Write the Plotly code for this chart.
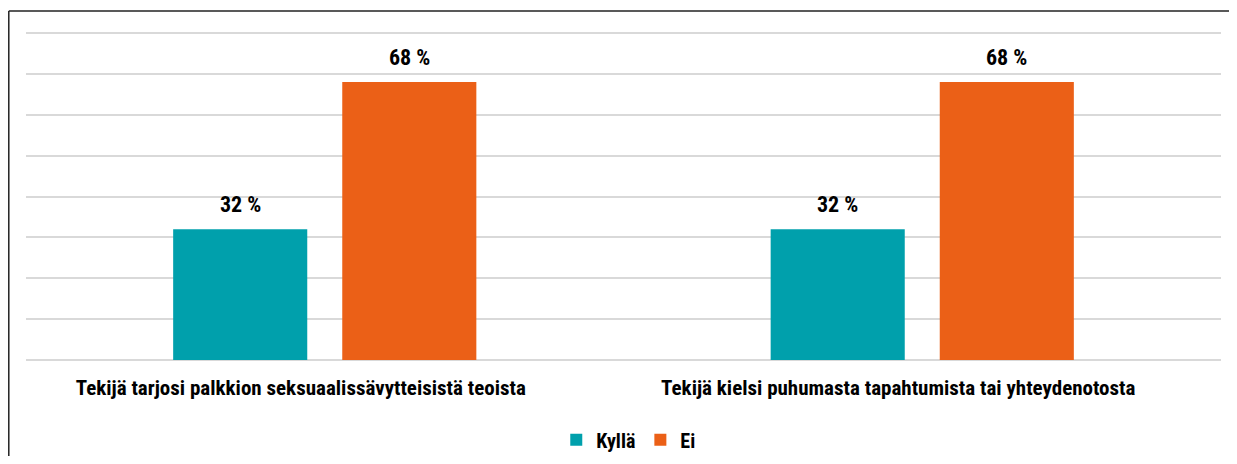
import plotly.graph_objects as go

# data
categories = [
    "Tekijä tarjosi palkkion seksuaalissävytteisistä teoista",
    "Tekijä kielsi puhumasta tapahtumista tai yhteydenotosta",
]
kylla = [32, 32]
ei = [68, 68]
series_names = ["Kyllä", "Ei"]
colors = ["#00A0AC", "#EB6017"]

FONT = "Roboto Condensed, Open Sans Condensed, Liberation Sans Narrow, sans-serif"

fig = go.Figure()
for name, vals, col in zip(series_names, [kylla, ei], colors):
    fig.add_trace(go.Bar(
        x=categories,
        y=vals,
        name=name,
        marker={"color": col, "line": {"width": 0}},
    ))

# value labels above the bars (shifted onto each bar of the group)
for vals, shift in zip([kylla, ei], [-84.5, 84.5]):
    for cat, v in zip(categories, vals):
        fig.add_annotation(
            x=cat, y=v, xref="x", yref="y",
            text=f"{v} %",
            showarrow=False,
            yanchor="bottom",
            yshift=10,
            xshift=shift,
            font={"family": FONT, "size": 22, "color": "#000000", "weight": "bold"},
        )

# thin frame along the top and left edge, like in the source image
fig.add_shape(type="line", xref="paper", yref="paper",
              x0=-0.0144, x1=1.0067, y0=1.064, y1=1.064,
              line={"color": "#222222", "width": 1.5})
fig.add_shape(type="line", xref="paper", yref="paper",
              x0=-0.0144, x1=-0.0144, y0=1.064, y1=-0.4,
              line={"color": "#222222", "width": 1.5})

# page body has an 8px margin, so keep the figure inside the window
fig.update_layout(
    width=1221,
    height=448,
    margin={"l": 18, "r": 8, "t": 24, "b": 96, "autoexpand": False},
    paper_bgcolor="white",
    plot_bgcolor="white",
    barmode="group",
    bargap=0.434,
    bargroupgap=0.207,
    font={"family": FONT, "size": 21, "color": "#000000", "weight": "bold"},
    showlegend=True,
    legend={
        "orientation": "h",
        "xref": "container", "yref": "container",
        "x": 0.508, "xanchor": "center",
        "y": 0.036, "yanchor": "middle",
        "font": {"family": FONT, "size": 20, "weight": "bold"},
        "itemwidth": 30,
    },
    xaxis={
        "showgrid": False,
        "showline": False,
        "ticks": "",
        "tickfont": {"family": FONT, "size": 21, "weight": "bold"},
        "ticklabelstandoff": 13,
        "ticklabelshift": -24,
    },
    yaxis={
        "range": [0, 80.25],
        "tickvals": [0, 10, 20, 30, 40, 50, 60, 70, 80],
        "showticklabels": False,
        "showgrid": True,
        "gridcolor": "#D9D9D9",
        "gridwidth": 2,
        "zeroline": True,
        "zerolinecolor": "#D9D9D9",
        "zerolinewidth": 2,
        "showline": False,
    },
)

fig.write_html("out.html")
